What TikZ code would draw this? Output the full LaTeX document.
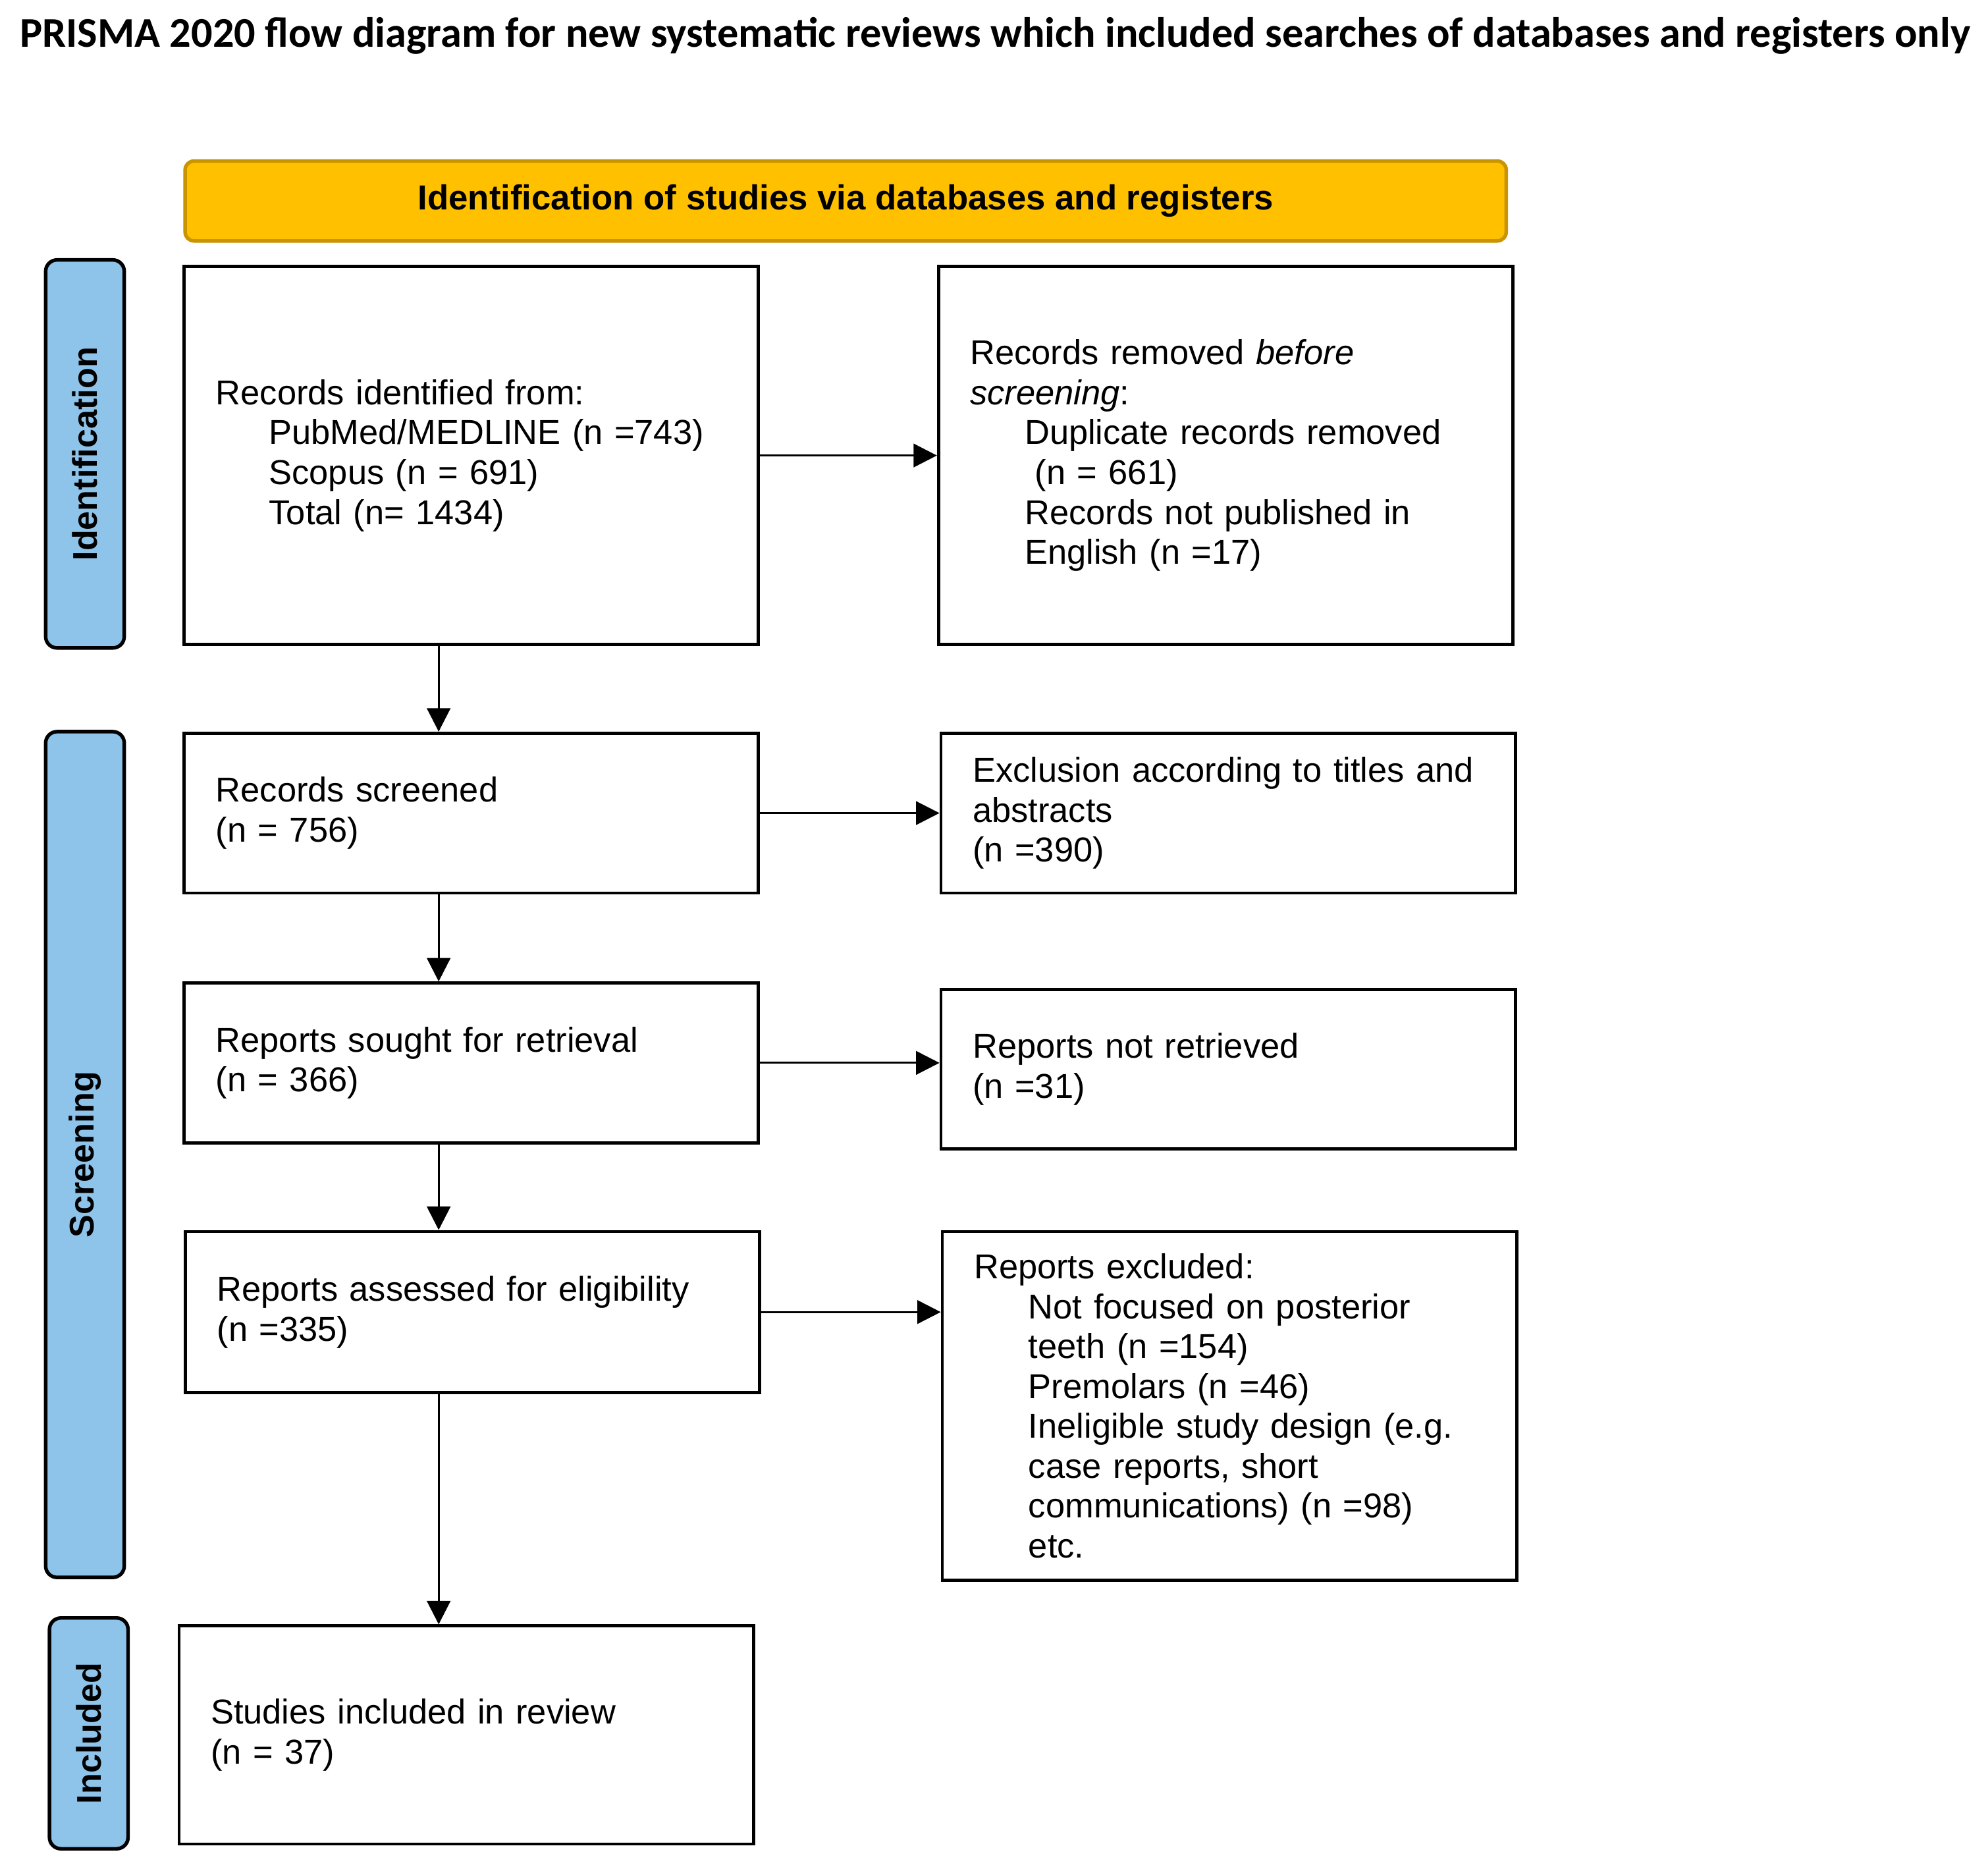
\documentclass[tikz,border=0pt]{standalone}
\usepackage{fontspec}
\setmainfont{Liberation Sans}
\newfontfamily\titlefont{Carlito}
\usepackage{tikz}
\usetikzlibrary{arrows.meta,positioning,calc}
\definecolor{cHead}{HTML}{FFC000}
\definecolor{cHeadEdge}{HTML}{C99400}
\definecolor{cSide}{HTML}{8EC3EA}
\tikzset{
  box/.style    ={rectangle, draw=black, line width=0.7pt, align=left, anchor=north west,
                  text width=40.3mm, inner xsep=2.5mm, inner ysep=0pt,
                  font=\fontsize{7.75}{8.95}\selectfont},
  side/.style   ={rectangle, rounded corners=0.9mm, draw=black, line width=0.8pt, fill=cSide,
                  rotate=90, inner sep=0pt, minimum height=6.2mm,
                  font=\fontsize{7.7}{9}\selectfont\bfseries},
  head/.style   ={rectangle, rounded corners=0.7mm, draw=cHeadEdge, line width=0.8pt, fill=cHead,
                  minimum width=104.2mm, minimum height=6.3mm, inner sep=0pt,
                  font=\fontsize{7.8}{9}\selectfont\bfseries},
  fl/.style     ={-{Triangle[length=1.85mm,width=1.85mm]}, line width=0.45pt, draw=black},
}
\begin{document}
\begin{tikzpicture}[x=1mm,y=-1mm]
  \useasboundingbox (0,0) rectangle (156.8,147.7);
  \node[anchor=base, inner sep=0pt, font=\titlefont\fontsize{9.5}{11}\selectfont\bfseries] (title) at (78.5,3.7)
    {PRISMA 2020 flow diagram for new systematic reviews which included searches of databases and registers only};
  \node[head] (hdr) at (66.7,15.85) {Identification of studies via databases and registers};
  \node[side, minimum width=30.6mm] (sident) at (6.7,35.8) {Identification};
  \node[side, minimum width=66.7mm] (sscreen) at (6.7,91.05) {Screening};
  \node[side, minimum width=18.2mm] (sincl) at (7.0,136.7) {Included};
  \node[box, minimum height=29.8mm] (ident) at (14.4,20.9) {Records identified from:\\
    \hspace*{4.2mm}PubMed/MEDLINE (n =743)\\ \hspace*{4.2mm}Scopus (n = 691)\\ \hspace*{4.2mm}Total (n= 1434)};
  \node[box, minimum height=29.8mm] (removed) at (73.9,20.9) {Records removed \textit{before}\\ \textit{screening}:\\
    \hspace*{4.3mm}Duplicate records removed\\ \hspace*{5.1mm}(n = 661)\\
    \hspace*{4.3mm}Records not published in\\ \hspace*{4.3mm}English (n =17)};
  \node[box, minimum height=12.6mm] (screened) at (14.4,57.7) {Records screened\\(n = 756)};
  \node[box, minimum height=12.6mm] (excl) at (74.1,57.7) {Exclusion according to titles and\\abstracts\\(n =390)};
  \node[box, minimum height=12.6mm] (sought) at (14.4,77.4) {Reports sought for retrieval\\(n = 366)};
  \node[box, minimum height=12.6mm] (notret) at (74.1,77.9) {Reports not retrieved\\(n =31)};
  \node[box, minimum height=12.7mm] (assessed) at (14.5,97.0) {Reports assessed for eligibility\\(n =335)};
  \node[box, minimum height=27.5mm] (repexcl) at (74.2,97.0) {Reports excluded:\\
    \hspace*{4.3mm}Not focused on posterior\\ \hspace*{4.3mm}teeth (n =154)\\ \hspace*{4.3mm}Premolars (n =46)\\
    \hspace*{4.3mm}Ineligible study design (e.g.\\ \hspace*{4.3mm}case reports, short\\
    \hspace*{4.3mm}communications) (n =98)\\ \hspace*{4.3mm}etc.};
  \node[box, minimum height=17.2mm] (incl) at (14.0,128.1) {Studies included in review\\(n = 37)};
  \coordinate (spine) at (34.6,0);
  \draw[fl](ident.east)--(removed.west);\draw[fl](screened.east)--(excl.west);
  \draw[fl](sought.east)--(sought.east -| notret.west);\draw[fl](assessed.east)--(assessed.east -| repexcl.west);
  \draw[fl](ident.south -| spine)--(screened.north -| spine);\draw[fl](screened.south -| spine)--(sought.north -| spine);
  \draw[fl](sought.south -| spine)--(assessed.north -| spine);\draw[fl](assessed.south -| spine)--(incl.north -| spine);
\end{tikzpicture}
\end{document}
